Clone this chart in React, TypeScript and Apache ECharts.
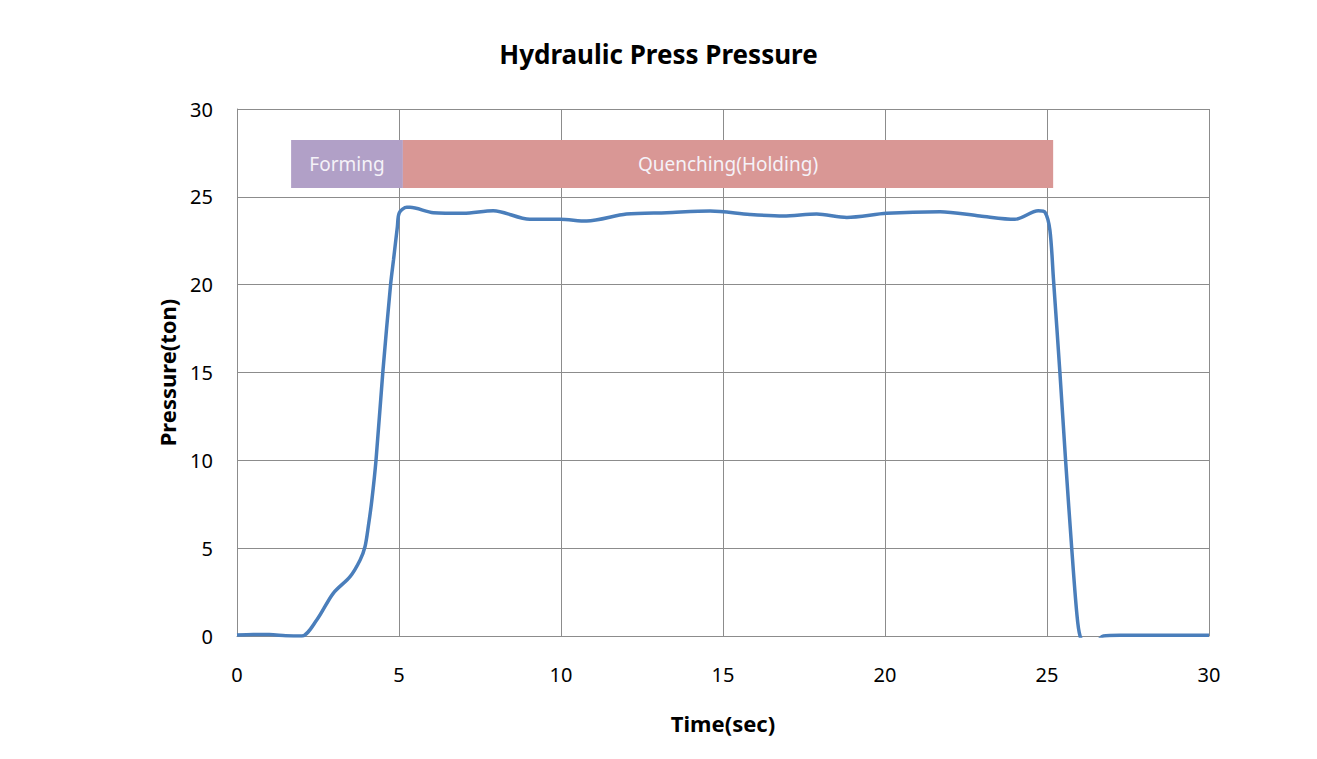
import React, { useEffect, useRef } from "react";
import * as echarts from "echarts";

const times = [
  0, 0.5, 1.0, 1.5, 2.0, 2.46, 2.97, 3.49, 3.8, 3.95, 4.05, 4.16, 4.29, 4.5, 4.74, 4.83, 4.95, 5.01,
  5.24, 5.34, 6.06, 6.99, 7.91, 9.04, 9.97, 10.79, 12.02, 13.26, 14.6, 15.83, 16.86, 17.89, 18.82,
  20.05, 21.7, 22.93, 24.01, 24.73, 24.94, 25.09, 25.2, 25.4, 25.58, 25.76, 25.92, 26.02, 26.2, 26.5,
  26.74, 27.25, 28.0, 29.0, 30.0,
];
const pressures = [
  0.05, 0.08, 0.08, 0.02, 0.0, 0.91, 2.43, 3.38, 4.33, 5.08, 6.2, 7.7, 10.0, 15.0, 20.0, 21.4, 23.3,
  24.1, 24.4, 24.4, 24.1, 24.06, 24.21, 23.72, 23.72, 23.62, 24.02, 24.1, 24.19, 24.0, 23.91, 24.02,
  23.83, 24.06, 24.15, 23.91, 23.72, 24.21, 24.12, 23.1, 20.3, 14.95, 9.83, 5.08, 1.29, 0.0, -0.5,
  -0.4, 0.0, 0.04, 0.04, 0.04, 0.04,
];

const xTicks = [0, 30, 5];
const yTicks = [0, 30, 5];

const phaseNames = ["Forming", "Quenching(Holding)"];
const phaseStarts = [1.67, 5.12];
const phaseEnds = [5.12, 25.19];
const phaseLow = 25.5;
const phaseHigh = 28.23;
const phaseColors = ["#B1A0C7", "#D99795"];

export default function App() {
  const ref = useRef<HTMLDivElement>(null);
  useEffect(() => {
    document.body.style.margin = "0";
    if (!ref.current) return;
    const chart = echarts.init(ref.current, null, { renderer: "svg" });
    const data = times.map((t, i) => [t, pressures[i]]);
    const font = "'Noto Sans', 'Open Sans', sans-serif";
    chart.setOption({
      animation: false,
      backgroundColor: "#ffffff",
      title: {
        text: "Hydraulic Press Pressure",
        left: "center",
        top: 36,
        textStyle: { fontFamily: font, fontSize: 26, fontWeight: "bold", color: "#000" },
      },
      grid: { left: 237, right: 108, top: 109, bottom: 123 },
      xAxis: {
        type: "value",
        min: xTicks[0],
        max: xTicks[1],
        interval: xTicks[2],
        name: "Time(sec)",
        nameLocation: "middle",
        nameGap: 76,
        nameTextStyle: { fontFamily: font, fontSize: 22, fontWeight: "bold", color: "#000" },
        axisLine: { lineStyle: { color: "#8c8c8c" } },
        axisTick: { show: false },
        axisLabel: { fontFamily: font, fontSize: 20, color: "#000", margin: 28 },
        splitLine: { lineStyle: { color: "#8c8c8c", width: 1 } },
      },
      yAxis: {
        type: "value",
        min: yTicks[0],
        max: yTicks[1],
        interval: yTicks[2],
        name: "Pressure(ton)",
        nameLocation: "middle",
        nameGap: 59,
        nameTextStyle: { fontFamily: font, fontSize: 22, fontWeight: "bold", color: "#000" },
        axisLine: { show: true, lineStyle: { color: "#8c8c8c" } },
        axisTick: { show: false },
        axisLabel: { fontFamily: font, fontSize: 20, color: "#000", margin: 24 },
        splitLine: { lineStyle: { color: "#8c8c8c", width: 1 } },
      },
      series: [
        {
          type: "line",
          data,
          smooth: 0.3,
          showSymbol: false,
          clip: true,
          lineStyle: { color: "#4A7EBB", width: 3.5 },
          markArea: {
            silent: true,
            data: phaseNames.map((n, i) => [
              {
                name: n,
                xAxis: phaseStarts[i],
                yAxis: phaseHigh,
                itemStyle: { color: phaseColors[i], opacity: 1 },
                label: {
                  show: true,
                  position: "inside",
                  color: "#F5F2F8",
                  fontFamily: font,
                  fontSize: 19,
                },
              },
              { xAxis: phaseEnds[i], yAxis: phaseLow },
            ]),
          },
        },
      ],
    });
    return () => chart.dispose();
  }, []);
  return <div ref={ref} style={{ width: 1317, height: 759 }} />;
}
